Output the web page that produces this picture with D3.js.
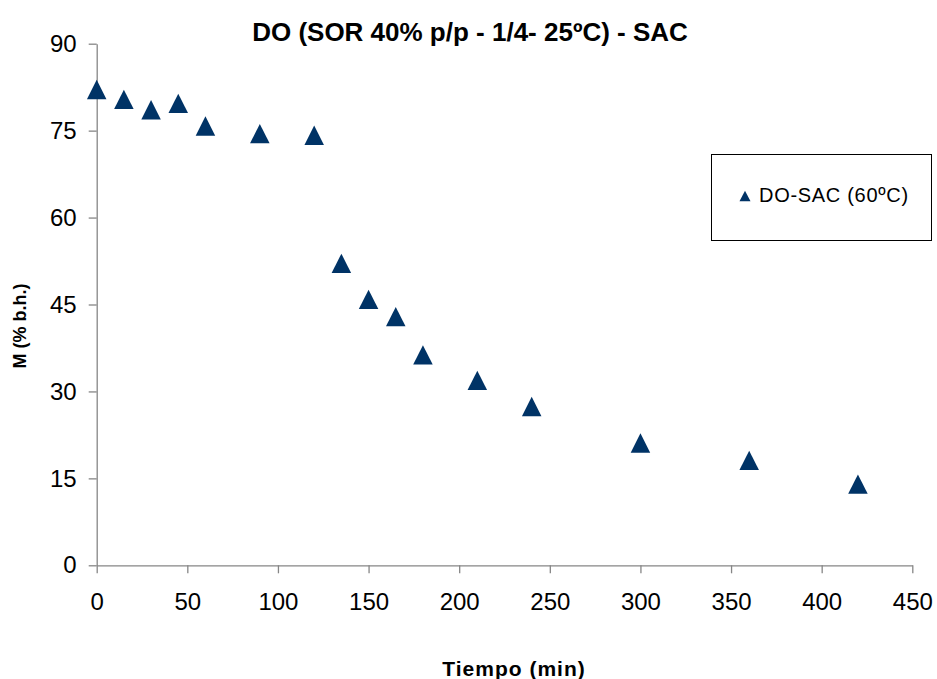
<!DOCTYPE html>
<html>
<head>
<meta charset="utf-8">
<script src="https://cdn.jsdelivr.net/npm/d3@7"></script>
<style>
  body { margin: 0; background: #fff; }
  text { font-family: "Liberation Sans", Arial, sans-serif; }
</style>
</head>
<body>
<svg id="chart"></svg>
<script>
// data
var tiempo = [0, 15, 30, 45, 60, 90, 120, 135, 150, 165, 180, 210, 240, 300, 360, 420];
var humedad = [82.1, 80.4, 78.6, 79.7, 75.8, 74.5, 74.2, 52.1, 45.9, 42.9, 36.3, 31.9, 27.4, 21.1, 18.1, 14.0];
var xTicks = [0, 50, 100, 150, 200, 250, 300, 350, 400, 450];
var yTicks = [0, 15, 30, 45, 60, 75, 90];
var serieName = "DO-SAC (60ºC)";
var titulo = "DO (SOR 40% p/p - 1/4- 25ºC) - SAC";

var width = 937, height = 679;
var plotLeft = 96.7, plotRight = 912.3, plotTop = 43.7, plotBottom = 565.3;
var markerColor = "#003366";
var axisColor = "#868686";

var svg = d3.select("#chart")
    .attr("width", width)
    .attr("height", height);

var x = d3.scaleLinear().domain([0, 450]).range([plotLeft, plotRight]);
var y = d3.scaleLinear().domain([0, 90]).range([plotBottom, plotTop]);

// axes
var xAxis = svg.append("g")
    .attr("transform", "translate(0," + plotBottom + ")")
    .call(d3.axisBottom(x).tickValues(xTicks).tickSize(8).tickPadding(20).tickSizeOuter(0));

var yAxis = svg.append("g")
    .attr("transform", "translate(" + plotLeft + ",0)")
    .call(d3.axisLeft(y).tickValues(yTicks).tickSize(8).tickPadding(12).tickSizeOuter(0));

[xAxis, yAxis].forEach(function (g) {
    g.select(".domain").attr("stroke", axisColor).attr("stroke-width", 1.3);
    g.selectAll(".tick line").attr("stroke", axisColor).attr("stroke-width", 1.3);
    g.selectAll(".tick text")
        .attr("fill", "#000")
        .style("font-size", "24px")
        .style("font-family", "'Liberation Sans', Arial, sans-serif");
});
xAxis.selectAll(".tick text").attr("dy", "0.71em");

// triangle marker path centred at 0,0
function triangle(w, h) {
    return "M0," + (-h / 2) + "L" + (w / 2) + "," + (h / 2) + "L" + (-w / 2) + "," + (h / 2) + "Z";
}

svg.append("g").selectAll(".dot")
    .data(tiempo)
    .enter().append("path")
    .attr("class", "dot")
    .attr("d", triangle(19.5, 19.3))
    .attr("fill", markerColor)
    .attr("transform", function (d, i) {
        return "translate(" + x(d) + "," + y(humedad[i]) + ")";
    });

// title
svg.append("text")
    .attr("x", 470)
    .attr("y", 41)
    .style("text-anchor", "middle")
    .style("font-size", "26px")
    .style("font-weight", "bold")
    .text(titulo);

// axis titles
svg.append("text")
    .attr("transform", "translate(26,326) rotate(-90)")
    .style("text-anchor", "middle")
    .style("font-size", "18px")
    .style("font-weight", "bold")
    .text("M (% b.h.)");

svg.append("text")
    .attr("x", 514)
    .attr("y", 676)
    .style("text-anchor", "middle")
    .style("font-size", "21px")
    .style("font-weight", "bold")
    .style("letter-spacing", "1px")
    .text("Tiempo (min)");

// legend
var legend = svg.append("g");
legend.append("rect")
    .attr("x", 711.5)
    .attr("y", 154.5)
    .attr("width", 220)
    .attr("height", 86)
    .attr("fill", "#fff")
    .attr("stroke", "#000")
    .attr("stroke-width", 1);
legend.append("path")
    .attr("d", triangle(11, 10.5))
    .attr("fill", markerColor)
    .attr("transform", "translate(745,196)");
legend.append("text")
    .attr("x", 759)
    .attr("y", 201.5)
    .style("font-size", "20px")
    .style("letter-spacing", "0.7px")
    .text(serieName);
</script>
</body>
</html>
